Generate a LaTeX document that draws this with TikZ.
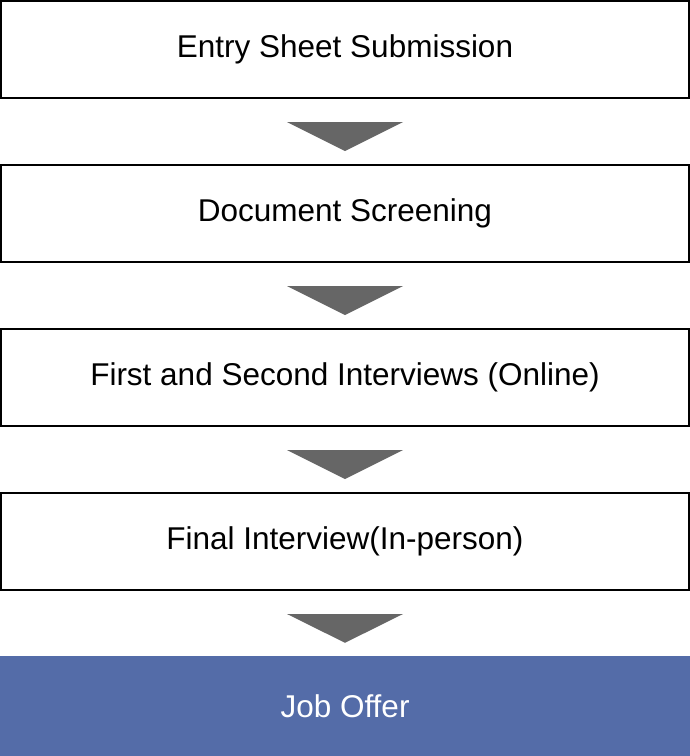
\documentclass[tikz,border=0pt]{standalone}
\usepackage{fontspec}
\setmainfont{Liberation Sans}
\usepackage{tikz}
\definecolor{offerblue}{RGB}{84,108,168}
\definecolor{tridark}{RGB}{102,102,102}
\tikzset{
	stepnode/.style = {
		align=center,
		inner sep=0pt,
		text centered,
		font=\fontsize{31.5}{36}\selectfont,
		anchor=center
	},
	step_box/.style = {
		stepnode,
		rectangle,
		draw=black,
		line width=2pt,
		minimum width=688pt,
		minimum height=97pt
	},
	offer_box/.style = {
		stepnode,
		rectangle,
		fill=offerblue,
		text=white,
		minimum width=690pt,
		minimum height=100pt
	},
	arrow_tri/.style = {
		fill=tridark
	},
}
\begin{document}
\begin{tikzpicture}[x=1pt,y=1pt]
\useasboundingbox (0,0) rectangle (690,-756);
\node [step_box] (entry) at (345,-49.5) {Entry Sheet Submission};
\node [step_box] (screen) at (345,-213.5) {Document Screening};
\node [step_box] (online) at (345,-377.5) {First and Second Interviews (Online)};
\node [step_box] (final) at (345,-541.5) {Final Interview(In-person)};
\node [offer_box] (offer) at (345,-706) {Job Offer};
% down arrows between the steps
\foreach \a/\b in {entry/screen, screen/online, online/final, final/offer}
	\fill [arrow_tri] ([xshift=-58pt,yshift=-23pt]\a.south) -- ([xshift=58pt,yshift=-23pt]\a.south) -- ([yshift=13pt]\b.north) -- cycle;
\end{tikzpicture}
\end{document}
